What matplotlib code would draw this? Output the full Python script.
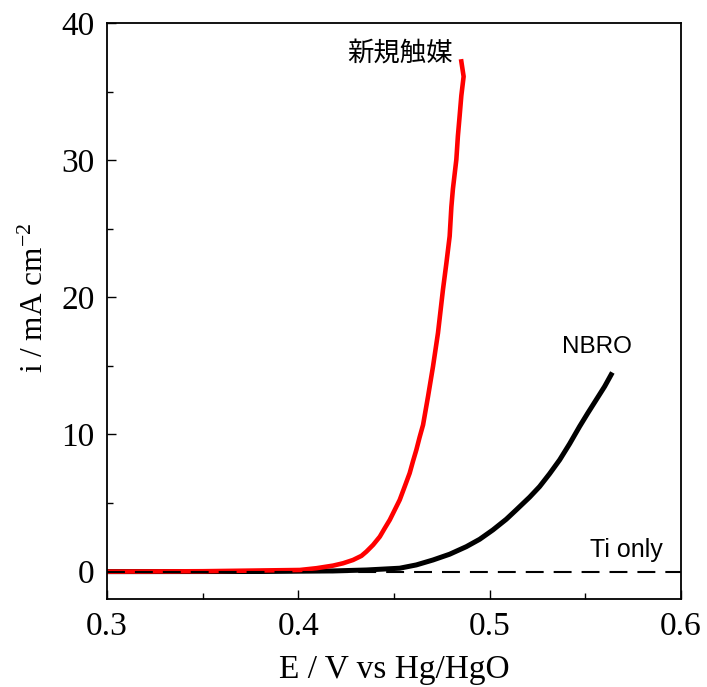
import matplotlib
matplotlib.rcParams["font.family"] = ["Liberation Serif", "DejaVu Serif"]
matplotlib.rcParams["mathtext.fontset"] = "custom"
matplotlib.rcParams["mathtext.rm"] = "Liberation Serif"
matplotlib.rcParams["mathtext.it"] = "Liberation Serif:italic"
import matplotlib.pyplot as plt
from matplotlib.ticker import MultipleLocator

# LSV curves (E vs Hg/HgO in V, current density in mA cm^-2)
e_new = [0.300, 0.350, 0.4008, 0.4095, 0.4182, 0.4234, 0.4286, 0.4330, 0.4356,
         0.4391, 0.4426, 0.4452, 0.4478, 0.4504, 0.4530, 0.4556, 0.4582, 0.4599,
         0.4617, 0.4634, 0.4652, 0.4678, 0.4704, 0.4730, 0.4756, 0.4774, 0.4791,
         0.4800, 0.4808, 0.4826, 0.4834, 0.4843, 0.4852, 0.4864, 0.4852]
i_new = [0.0, 0.03, 0.12, 0.25, 0.44, 0.61, 0.85, 1.15, 1.46,
         1.95, 2.55, 3.17, 3.77, 4.50, 5.23, 6.20, 7.18, 8.03,
         8.88, 9.8, 10.7, 12.77, 14.96, 17.4, 20.56, 22.5, 24.45,
         26.6, 27.9, 30.05, 31.75, 33.2, 34.7, 36.1, 37.2]

e_nbro = [0.300, 0.380, 0.4180, 0.4356, 0.4530, 0.4617, 0.4704, 0.4791, 0.4878,
          0.4948, 0.5017, 0.5087, 0.5139, 0.5209, 0.5261, 0.5313, 0.5366, 0.5418,
          0.5470, 0.5513, 0.5557, 0.5601, 0.5635]
i_nbro = [0.0, 0.01, 0.05, 0.12, 0.25, 0.49, 0.85, 1.27, 1.82,
          2.36, 3.04, 3.82, 4.50, 5.43, 6.20, 7.13, 8.15, 9.32,
          10.58, 11.56, 12.53, 13.5, 14.36]

e_ti = [0.300, 0.600]
i_ti = [0.0, 0.0]

fig = plt.figure(figsize=(7.07, 6.87), dpi=100)
ax = fig.add_axes([0.1513, 0.128, 0.8119, 0.8385])

ax.plot(e_nbro, i_nbro, color="black", lw=3.6, solid_joinstyle="round")
ax.plot(e_new, i_new, color="#ff0000", lw=3.3, solid_joinstyle="round")
ax.plot(e_ti, i_ti, color="black", lw=1.5, dashes=(8.6, 4.8))

ax.text(0.453, 37.8, "新規触媒", fontsize=19, ha="center", va="center",
        family=["Noto Sans CJK JP", "DejaVu Sans"])
ax.text(0.5559, 16.35, "NBRO", fontsize=17.5, ha="center", va="center",
        family="Liberation Sans")
ax.text(0.5715, 1.6, "Ti only", fontsize=18, ha="center", va="center",
        family="Liberation Sans")

ax.set_xlim(0.3, 0.6)
ax.set_ylim(-2, 40)
ax.xaxis.set_major_locator(MultipleLocator(0.1))
ax.xaxis.set_minor_locator(MultipleLocator(0.05))
ax.yaxis.set_major_locator(MultipleLocator(10))
ax.yaxis.set_minor_locator(MultipleLocator(5))
ax.tick_params(which="both", direction="in", width=1.0, labelsize=24, pad=9)
ax.tick_params(which="major", length=6.5)
ax.tick_params(which="minor", length=4.5)
ax.set_xticks([0.3, 0.4, 0.5, 0.6], ["0.3", "0.4", "0.5", "0.6"])
for sp in ax.spines.values():
    sp.set_linewidth(1.3)

ax.set_xlabel("E / V vs Hg/HgO", fontsize=24)
ax.set_ylabel("i / mA cm$^{-2}$", fontsize=22.5)
ax.xaxis.set_label_coords(0.5, -0.096)
ax.yaxis.set_label_coords(-0.10, 0.523)

fig.savefig("out.png", dpi=100)
